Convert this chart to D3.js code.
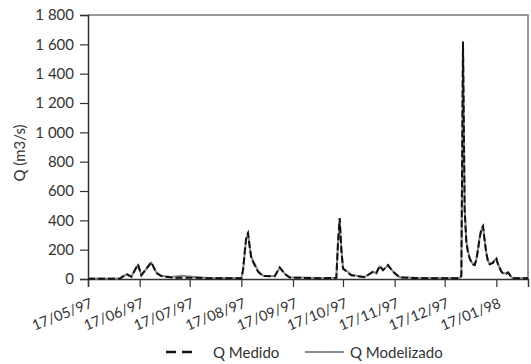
<!DOCTYPE html>
<html>
<head>
<meta charset="utf-8">
<script src="https://cdn.jsdelivr.net/npm/d3@7"></script>
<style>
  body { margin: 0; background: #fff; }
  svg text { font-family: Lato, "Open Sans", sans-serif; fill: #333; }
</style>
</head>
<body>
<svg id="chart" width="531" height="364"></svg>
<script>
// dates of readings (dd/mm/yy)
const dates = [
  "17/05/97","05/06/97","09/06/97","12/06/97","16/06/97","18/06/97","24/06/97","27/06/97","30/06/97",
  "06/07/97","12/07/97","20/07/97","29/07/97","17/08/97","18/08/97","19/08/97","20/08/97","21/08/97",
  "22/08/97","23/08/97","27/08/97","30/08/97","06/09/97","09/09/97","12/09/97","15/09/97","03/10/97",
  "13/10/97","14/10/97","15/10/97","16/10/97","17/10/97","22/10/97","30/10/97","04/11/97","06/11/97",
  "08/11/97","10/11/97","13/11/97","16/11/97","20/11/97","02/12/97","26/12/97","27/12/97","28/12/97",
  "29/12/97","30/12/97","31/12/97","01/01/98","02/01/98","03/01/98","04/01/98","05/01/98","06/01/98",
  "07/01/98","08/01/98","09/01/98","10/01/98","11/01/98","12/01/98","13/01/98","14/01/98","15/01/98",
  "16/01/98","17/01/98","18/01/98","19/01/98","20/01/98","21/01/98","22/01/98","23/01/98","24/01/98",
  "25/01/98","26/01/98","27/01/98","05/02/98"
];
const qMedido = [
  2, 2, 35, 15, 100, 25, 115, 40, 20,
  10, 8, 8, 5, 5, 60, 180, 290, 314,
  220, 140, 50, 20, 18, 80, 35, 10, 5,
  8, 250, 415, 200, 70, 25, 12, 50, 40,
  90, 60, 95, 50, 10, 5, 5, 20, 1620,
  470, 250, 180, 140, 115, 100, 95, 130, 200,
  280, 340, 360, 260, 175, 120, 100, 105, 110,
  130, 140, 100, 75, 50, 40, 40, 35, 45,
  30, 12, 5, 5
];
const qModelizado = [
  3, 3, 30, 18, 95, 28, 110, 45, 22,
  14, 22, 14, 6, 6, 55, 170, 280, 305,
  225, 150, 55, 22, 20, 75, 38, 12, 6,
  9, 240, 400, 210, 75, 28, 14, 48, 42,
  85, 62, 92, 52, 12, 6, 6, 25, 1600,
  480, 260, 190, 145, 118, 102, 98, 135, 205,
  285, 335, 355, 265, 180, 125, 102, 108, 112,
  128, 138, 102, 78, 52, 42, 40, 36, 44,
  32, 14, 6, 6
];
const yTicks = [0, 200, 400, 600, 800, 1000, 1200, 1400, 1600, 1800];
const xTicks = ["17/05/97","17/06/97","17/07/97","17/08/97","17/09/97","17/10/97","17/11/97","17/12/97","17/01/98"];
const xEnd = "05/02/98";

const parse = d3.utcParse("%d/%m/%y");
const fmtDate = d3.utcFormat("%d/%m/%y");
const fmtNum = n => n >= 1000 ? Math.floor(n / 1000) + " " + String(n % 1000).padStart(3, "0") : String(n);

const mLeft = 88, mRight = 528, mTop = 15, mBottom = 279;
const svg = d3.select("#chart");

const x = d3.scaleUtc()
  .domain([parse(xTicks[0]), parse(xEnd)])
  .range([mLeft, mRight]);
const y = d3.scaleLinear()
  .domain([0, 1800])
  .range([mBottom, mTop]);

const rows = dates.map((d, i) => ({ date: parse(d), med: qMedido[i], mod: qModelizado[i] }));

// frame (top and right)
svg.append("path")
  .attr("d", `M${mLeft},${mTop}H${mRight}V${mBottom}`)
  .attr("fill", "none")
  .attr("stroke", "#777")
  .attr("stroke-width", 1.5);

// Y axis
const yAxis = svg.append("g")
  .attr("transform", `translate(${mLeft},0)`)
  .call(d3.axisLeft(y).tickValues(yTicks).tickFormat(fmtNum).tickSize(8).tickPadding(6));
yAxis.select(".domain").attr("stroke", "#333").attr("stroke-width", 1.5);
yAxis.selectAll(".tick line").attr("stroke", "#333").attr("stroke-width", 1.2);
yAxis.selectAll("text").style("font-size", "15px").attr("fill", "#333");

// X axis
const xAxis = svg.append("g")
  .attr("transform", `translate(0,${mBottom})`)
  .call(d3.axisBottom(x).tickValues(xTicks.map(parse)).tickFormat(fmtDate).tickSize(8));
xAxis.select(".domain").attr("stroke", "#333").attr("stroke-width", 1.5);
xAxis.selectAll(".tick line").attr("stroke", "#333").attr("stroke-width", 1.2);
xAxis.selectAll("text")
  .style("font-size", "14.5px")
  .attr("fill", "#333")
  .attr("text-anchor", "end")
  .attr("dy", 0)
  .attr("y", 0)
  .attr("transform", "translate(5,28) rotate(-22)");

// Y label
svg.append("text")
  .attr("transform", "translate(25,153) rotate(-90)")
  .attr("text-anchor", "middle")
  .style("font-size", "15px")
  .text("Q (m3/s)");

// lines
const lineMod = d3.line().x(d => x(d.date)).y(d => y(d.mod));
const lineMed = d3.line().x(d => x(d.date)).y(d => y(d.med));

svg.append("path")
  .datum(rows)
  .attr("d", lineMod)
  .attr("fill", "none")
  .attr("stroke", "#8a8a8a")
  .attr("stroke-width", 2);

svg.append("path")
  .datum(rows)
  .attr("d", lineMed)
  .attr("fill", "none")
  .attr("stroke", "#111")
  .attr("stroke-width", 2)
  .attr("stroke-dasharray", "7,3");

// legend
const legend = svg.append("g").attr("transform", "translate(0,352)");
legend.append("line")
  .attr("x1", 166).attr("x2", 192).attr("y1", 0).attr("y2", 0)
  .attr("stroke", "#111").attr("stroke-width", 2.5).attr("stroke-dasharray", "10,6");
legend.append("text")
  .attr("x", 213).attr("y", 5.5)
  .style("font-size", "15px")
  .text("Q Medido");
legend.append("line")
  .attr("x1", 305).attr("x2", 344).attr("y1", 0).attr("y2", 0)
  .attr("stroke", "#8a8a8a").attr("stroke-width", 2);
legend.append("text")
  .attr("x", 350).attr("y", 5.5)
  .style("font-size", "15px")
  .text("Q Modelizado");
</script>
</body>
</html>
